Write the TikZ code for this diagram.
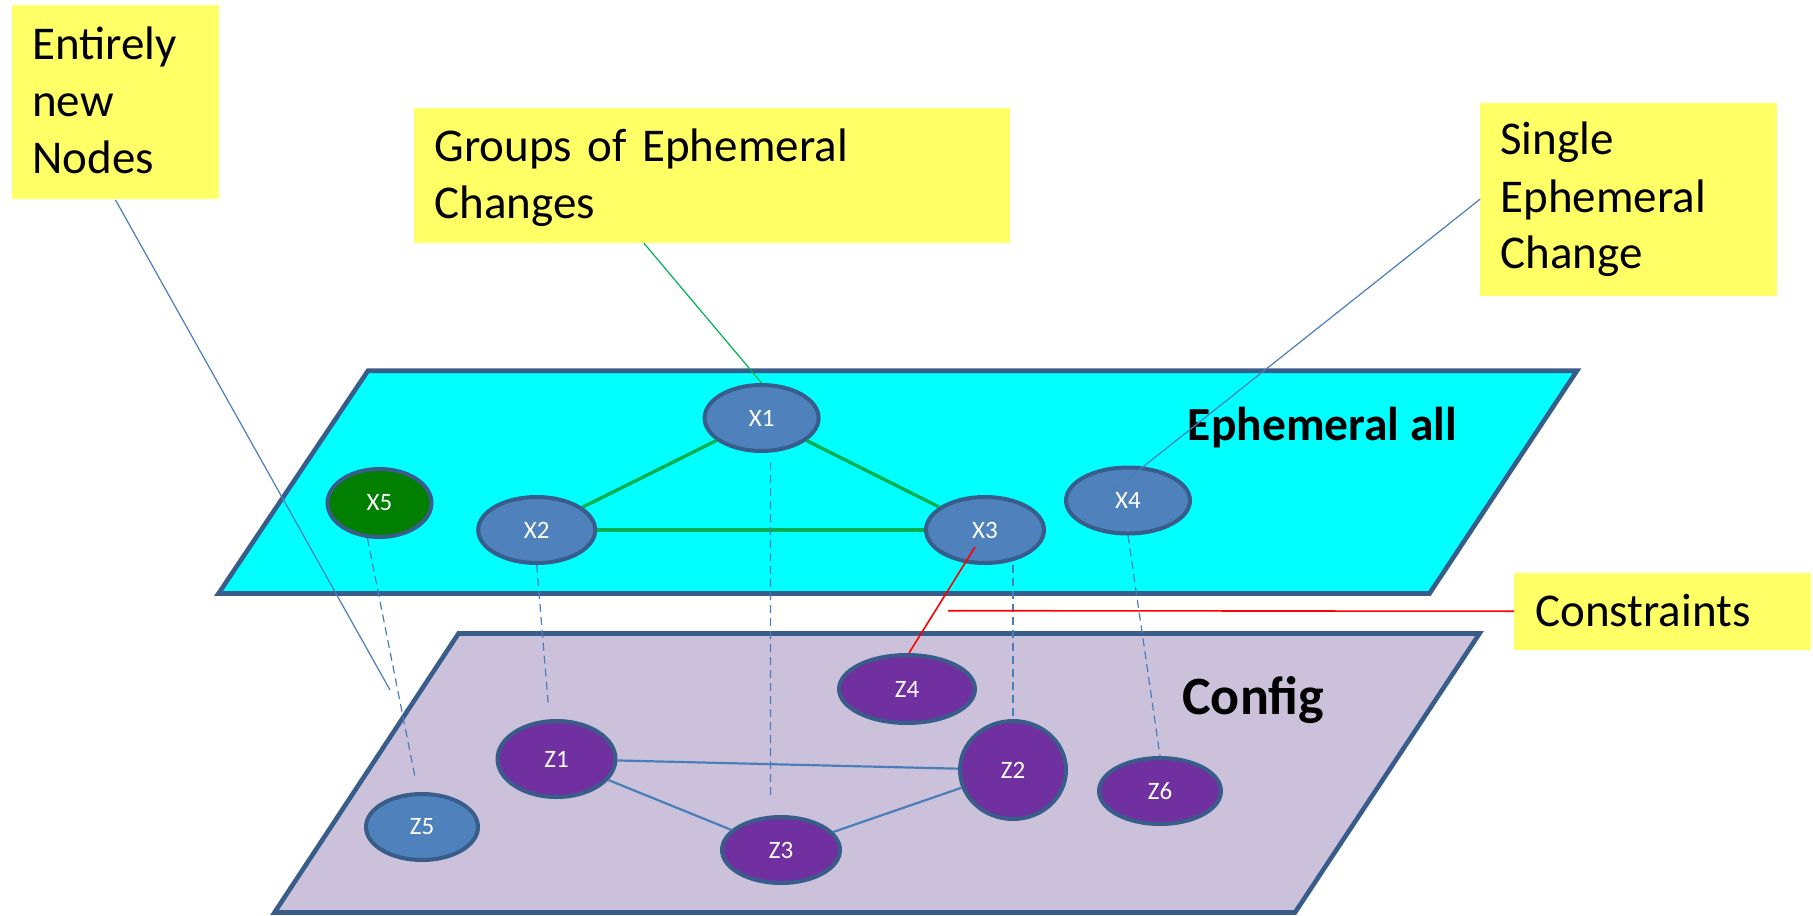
\documentclass[tikz,border=0pt]{standalone}
\usepackage{fontspec}
\setmainfont{Carlito}
\usetikzlibrary{shapes.geometric,calc}
\definecolor{noteyellow}{HTML}{FFFF66}
\definecolor{planecyan}{HTML}{00FFFF}
\definecolor{planelilac}{HTML}{CCC1DA}
\definecolor{planeborder}{HTML}{385D8A}
\definecolor{nodeborder}{HTML}{385D8A}
\definecolor{nodeblue}{HTML}{4F81BD}
\definecolor{nodegreen}{HTML}{007F00}
\definecolor{nodepurple}{HTML}{7030A0}
\definecolor{linegreen}{HTML}{00B050}
\definecolor{lineblue}{HTML}{4A7EBB}
\definecolor{linered}{HTML}{FF0000}
\tikzset{
  notebox/.style={fill=noteyellow, draw=none, inner sep=0, anchor=north west, rectangle},
  notetext/.style={anchor=base west, inner sep=0, text width=300pt, align=left,
    font=\fontsize{23.5}{28.5}\selectfont},
  plane/.style={draw=planeborder, line width=2.3pt, line join=miter},
  ellnode/.style={ellipse, draw=nodeborder, line width=2pt, text=white, inner sep=0,
    font=\fontsize{12.5}{14}\selectfont},
  xnode/.style={ellnode, fill=nodeblue},
  gnode/.style={ellnode, fill=nodegreen},
  znode/.style={ellnode, fill=nodepurple},
  tri/.style={draw=linegreen, line width=1.7pt},
  cfg/.style={draw=lineblue, line width=1.1pt},
  vdash/.style={draw=lineblue, line width=0.6pt, dash pattern=on 4pt off 2.5pt},
  callout/.style={draw=lineblue, line width=0.6pt},
  gcallout/.style={draw=linegreen, line width=0.6pt},
  rcallout/.style={draw=linered, line width=0.8pt}
}
\begin{document}
\begin{tikzpicture}[x=0.5pt,y=-0.5pt]
\useasboundingbox (0,0) rectangle (1813,915);

% yellow notes
\node[notebox, minimum width=103.5pt, minimum height=97pt] (entirely) at (11.5,5) {};
\node[notetext] (entirelyT) at (31.8,60) {Entirely\\new\\Nodes};
\node[notebox, minimum width=297.75pt, minimum height=67.5pt] (groups) at (414,107.5) {};
\node[notetext] (groupsT) at (434,161.7) {Groups of Ephemeral\\Changes};
\node[notebox, minimum width=148.5pt, minimum height=96.5pt] (single) at (1480,102.3) {};
\node[notetext] (singleT) at (1500,155) {Single\\Ephemeral\\Change};
\node[notebox, minimum width=148.5pt, minimum height=38.5pt] (constr) at (1514,572.3) {};
\node[notetext] (constrT) at (1535,626.7) {Constraints};

% planes
\draw[plane, fill=planecyan] (368,370.7) -- (1577,370.7) -- (1429.5,593.5) -- (218.5,593.5) -- cycle;
\draw[plane, fill=planelilac] (458.5,633.5) -- (1479.5,633.5) -- (1295,912.5) -- (274.5,912.5) -- cycle;
\node[anchor=base west, inner sep=0, font=\fontsize{23.75}{28}\selectfont\bfseries] (ephT) at (1187.5,440) {Ephemeral all};
\node[anchor=base west, inner sep=0, font=\fontsize{27}{32}\selectfont\bfseries] (cfgT) at (1182,714) {Config};

% nodes
\node[xnode, minimum width=57pt, minimum height=33pt] (X1) at (761.6,418) {X1};
\node[xnode, minimum width=58.5pt, minimum height=33pt] (X2) at (536.7,530) {X2};
\node[xnode, minimum width=59pt, minimum height=33pt] (X3) at (985,530) {X3};
\node[xnode, minimum width=62pt, minimum height=33pt] (X4) at (1128,500.5) {X4};
\node[gnode, minimum width=52pt, minimum height=34pt] (X5) at (379.5,503) {X5};
\node[znode, minimum width=59pt, minimum height=38pt] (Z1) at (556.5,759) {Z1};
\node[znode, minimum width=53pt, minimum height=49pt] (Z2) at (1013,770) {Z2};
\node[znode, minimum width=59pt, minimum height=33pt] (Z3) at (781,850) {Z3};
\node[znode, minimum width=68pt, minimum height=34pt] (Z4) at (907,689) {Z4};
\node[xnode, minimum width=56pt, minimum height=33pt] (Z5) at (422,827) {Z5};
\node[znode, minimum width=61pt, minimum height=33pt] (Z6) at (1160,791) {Z6};

% ephemeral triangle
\draw[tri] (X1) -- (X2);
\draw[tri] (X1) -- (X3);
\draw[tri] (X2) -- (X3);

% config edges
\draw[cfg] (Z1) -- (Z2);
\draw[cfg] (Z1) -- (Z3);
\draw[cfg] (Z3) -- (Z2);

% vertical dashed links
\draw[vdash] (X5.251) -- ([xshift=-3.5pt,yshift=7.5pt]Z5.north);
\draw[vdash] (X2.south) -- ([xshift=-4pt,yshift=6pt]Z1.north);
\draw[vdash] ([xshift=4.5pt,yshift=-4.5pt]X1.south) -- ([xshift=-5.25pt,yshift=7.5pt]Z3.north);
\draw[vdash] (X3.south -| Z2.north) -- (Z2.north);
\draw[vdash] (X4.south) -- (Z6.north);

% callouts
\coordinate (entEnd) at (390,690);
\draw[callout] (entirely.south) -- (entEnd);
\draw[gcallout] ([xshift=115pt]groups.south west) -- (X1.north);
\draw[callout] (single.west) -- ($(X4)+(-16,-9)$);
\draw[rcallout] ($(X3)+(-10,17)$) -- ([xshift=1pt]Z4.north);
\coordinate (conStart) at (948,610.7);
\draw[rcallout] (conStart) -- (constr.west);
\end{tikzpicture}
\end{document}
